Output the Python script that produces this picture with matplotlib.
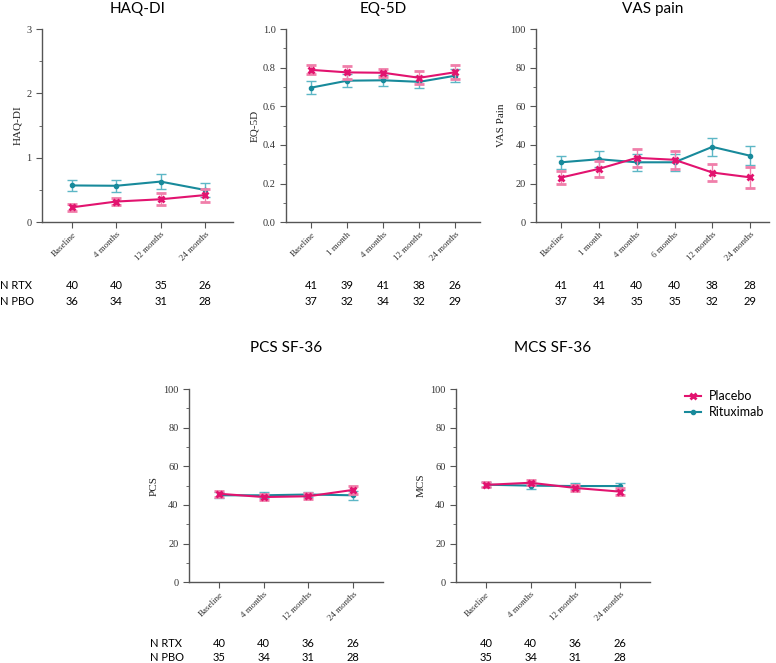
import matplotlib
matplotlib.use("Agg")
import matplotlib.pyplot as plt
from matplotlib.lines import Line2D
from matplotlib.transforms import blended_transform_factory
from matplotlib.ticker import MultipleLocator

# couleurs
PINK = '#E2136F'
PINK_ERR = '#F07FAA'
TEAL = '#188A9B'
TEAL_ERR = '#5DB7C6'

SERIF = 'Liberation Serif'
SANS = 'Lato'

# --- données ---
x_4 = ['Baseline', '4 months', '12 months', '24 months']
x_5 = ['Baseline', '1 month', '4 months', '12 months', '24 months']
x_6 = ['Baseline', '1 month', '4 months', '6 months', '12 months', '24 months']

haq_rtx = [0.57, 0.565, 0.63, 0.50]
haq_rtx_err = [0.09, 0.09, 0.12, 0.11]
haq_pbo = [0.23, 0.32, 0.355, 0.42]
haq_pbo_err = [0.05, 0.06, 0.09, 0.10]
haq_n_rtx = [40, 40, 35, 26]
haq_n_pbo = [36, 34, 31, 28]

eq_rtx = [0.697, 0.733, 0.735, 0.727, 0.759]
eq_rtx_err = [0.033, 0.035, 0.030, 0.030, 0.035]
eq_pbo = [0.789, 0.776, 0.774, 0.748, 0.777]
eq_pbo_err = [0.023, 0.035, 0.022, 0.033, 0.035]
eq_n_rtx = [41, 39, 41, 38, 26]
eq_n_pbo = [37, 32, 34, 32, 29]

vas_rtx = [31.0, 32.6, 31.0, 31.0, 39.0, 34.4]
vas_rtx_err = [3.3, 4.0, 4.5, 4.5, 4.7, 5.0]
vas_pbo = [23.1, 27.6, 33.3, 32.3, 25.7, 23.2]
vas_pbo_err = [3.6, 4.3, 4.6, 4.7, 4.5, 5.4]
vas_n_rtx = [41, 41, 40, 40, 38, 28]
vas_n_pbo = [37, 34, 35, 35, 32, 29]

pcs_rtx = [45.0, 45.0, 45.4, 45.0]
pcs_rtx_err = [1.5, 1.5, 1.5, 2.2]
pcs_pbo = [45.8, 44.1, 44.5, 47.8]
pcs_pbo_err = [1.5, 1.5, 1.5, 2.0]
pcs_n_rtx = [40, 40, 36, 26]
pcs_n_pbo = [35, 34, 31, 28]

mcs_rtx = [50.5, 50.0, 49.8, 49.8]
mcs_rtx_err = [1.3, 1.5, 1.5, 1.8]
mcs_pbo = [50.4, 51.5, 48.8, 46.9]
mcs_pbo_err = [1.3, 1.3, 1.5, 2.0]
mcs_n_rtx = [40, 40, 36, 26]
mcs_n_pbo = [35, 34, 31, 28]

fig = plt.figure(figsize=(7.76, 6.63), dpi=100)


def panel(rect, title, title_y, ylabel, cats, rtx, rtx_err, pbo, pbo_err, ylim, major, minor,
          xlim, fmt, n_rtx, n_pbo, n_y, show_n_label):
    ax = fig.add_axes(rect)
    x = list(range(len(cats)))
    ax.errorbar(x, rtx, yerr=rtx_err, color=TEAL, ecolor=TEAL_ERR, elinewidth=1.0,
                capsize=3.5, capthick=1.0, marker='o', markersize=3, lw=1.5, zorder=3)
    ax.errorbar(x, pbo, yerr=pbo_err, color=PINK, ecolor=PINK_ERR, elinewidth=1.0,
                capsize=3.5, capthick=1.0, marker='x', markersize=4.5, mew=2, lw=1.5, zorder=4)
    ax.set_ylim(*ylim)
    ax.set_xlim(*xlim)
    ax.yaxis.set_major_locator(MultipleLocator(major))
    ax.yaxis.set_minor_locator(MultipleLocator(minor))
    ax.yaxis.set_major_formatter(fmt)
    ax.set_xticks(x)
    ax.set_xticklabels(cats, rotation=45, ha='right', rotation_mode='anchor',
                       family=SERIF, fontsize=6.5, color='#333333')
    for lab in ax.get_yticklabels():
        lab.set_family(SERIF)
        lab.set_fontsize(7.5)
        lab.set_color('#333333')
    ax.spines['top'].set_visible(False)
    ax.spines['right'].set_visible(False)
    for s in ('left', 'bottom'):
        ax.spines[s].set_color('#555555')
        ax.spines[s].set_linewidth(1.0)
    ax.tick_params(axis='both', which='both', direction='out', color='#555555')
    ax.tick_params(axis='y', which='major', length=4)
    ax.tick_params(axis='y', which='minor', length=2)
    ax.tick_params(axis='x', length=4, pad=2)
    ax.set_ylabel(ylabel, family=SERIF, fontsize=8, color='#222222', labelpad=3)

    tr = blended_transform_factory(ax.transAxes, fig.transFigure)
    ax.text(0.5, title_y, title, transform=tr, ha='center', va='center',
            family=SANS, fontsize=11)

    tr = blended_transform_factory(ax.transData, fig.transFigure)
    for i in x:
        ax.text(i, n_y[0], str(n_rtx[i]), transform=tr, ha='center', va='center',
                family=SANS, fontsize=8)
        ax.text(i, n_y[1], str(n_pbo[i]), transform=tr, ha='center', va='center',
                family=SANS, fontsize=8)
    if show_n_label is not None:
        fig.text(show_n_label, n_y[0], 'N RTX', ha='left', va='center', family=SANS, fontsize=8)
        fig.text(show_n_label, n_y[1], 'N PBO', ha='left', va='center', family=SANS, fontsize=8)
    return ax


fmt_int = plt.FuncFormatter(lambda v, p: f'{v:.0f}')
fmt_1 = plt.FuncFormatter(lambda v, p: f'{v:.1f}')

top_b, top_h = 0.665, 0.291
bot_b, bot_h = 0.122, 0.291
n_top = (0.570, 0.546)
n_bot = (0.029, 0.008)
t_top = 0.987
t_bot = 0.475

panel([0.054, top_b, 0.246, top_h], 'HAQ-DI', t_top, 'HAQ-DI', x_4, haq_rtx, haq_rtx_err,
      haq_pbo, haq_pbo_err, (0, 3), 1, 0.5, (-0.68, 3.63), fmt_int, haq_n_rtx, haq_n_pbo,
      n_top, 0.0)
panel([0.369, top_b, 0.249, top_h], 'EQ-5D', t_top, 'EQ-5D', x_5, eq_rtx, eq_rtx_err,
      eq_pbo, eq_pbo_err, (0, 1.0), 0.2, 0.1, (-0.69, 4.67), fmt_1, eq_n_rtx, eq_n_pbo,
      n_top, None)
panel([0.691, top_b, 0.300, top_h], 'VAS pain', t_top, 'VAS Pain', x_6, vas_rtx, vas_rtx_err,
      vas_pbo, vas_pbo_err, (0, 100), 20, 10, (-0.66, 5.5), fmt_int, vas_n_rtx, vas_n_pbo,
      n_top, None)
panel([0.2436, bot_b, 0.250, bot_h], 'PCS SF-36', t_bot, 'PCS', x_4, pcs_rtx, pcs_rtx_err,
      pcs_pbo, pcs_pbo_err, (0, 100), 20, 10, (-0.67, 3.67), fmt_int, pcs_n_rtx, pcs_n_pbo,
      n_bot, 0.193)
panel([0.5876, bot_b, 0.250, bot_h], 'MCS SF-36', t_bot, 'MCS', x_4, mcs_rtx, mcs_rtx_err,
      mcs_pbo, mcs_pbo_err, (0, 100), 20, 10, (-0.67, 3.67), fmt_int, mcs_n_rtx,
      mcs_n_pbo, n_bot, None)

handles = [Line2D([], [], color=PINK, marker='x', markersize=4.5, mew=2, lw=1.5),
           Line2D([], [], color=TEAL, marker='o', markersize=3, lw=1.5)]
fig.legend(handles, ['Placebo', 'Rituximab'], loc='upper left', bbox_to_anchor=(0.868, 0.428),
           frameon=False, prop={'family': SANS, 'size': 9}, handlelength=1.3,
           handletextpad=0.6, labelspacing=0.3)

plt.savefig('out.png', dpi=100)
